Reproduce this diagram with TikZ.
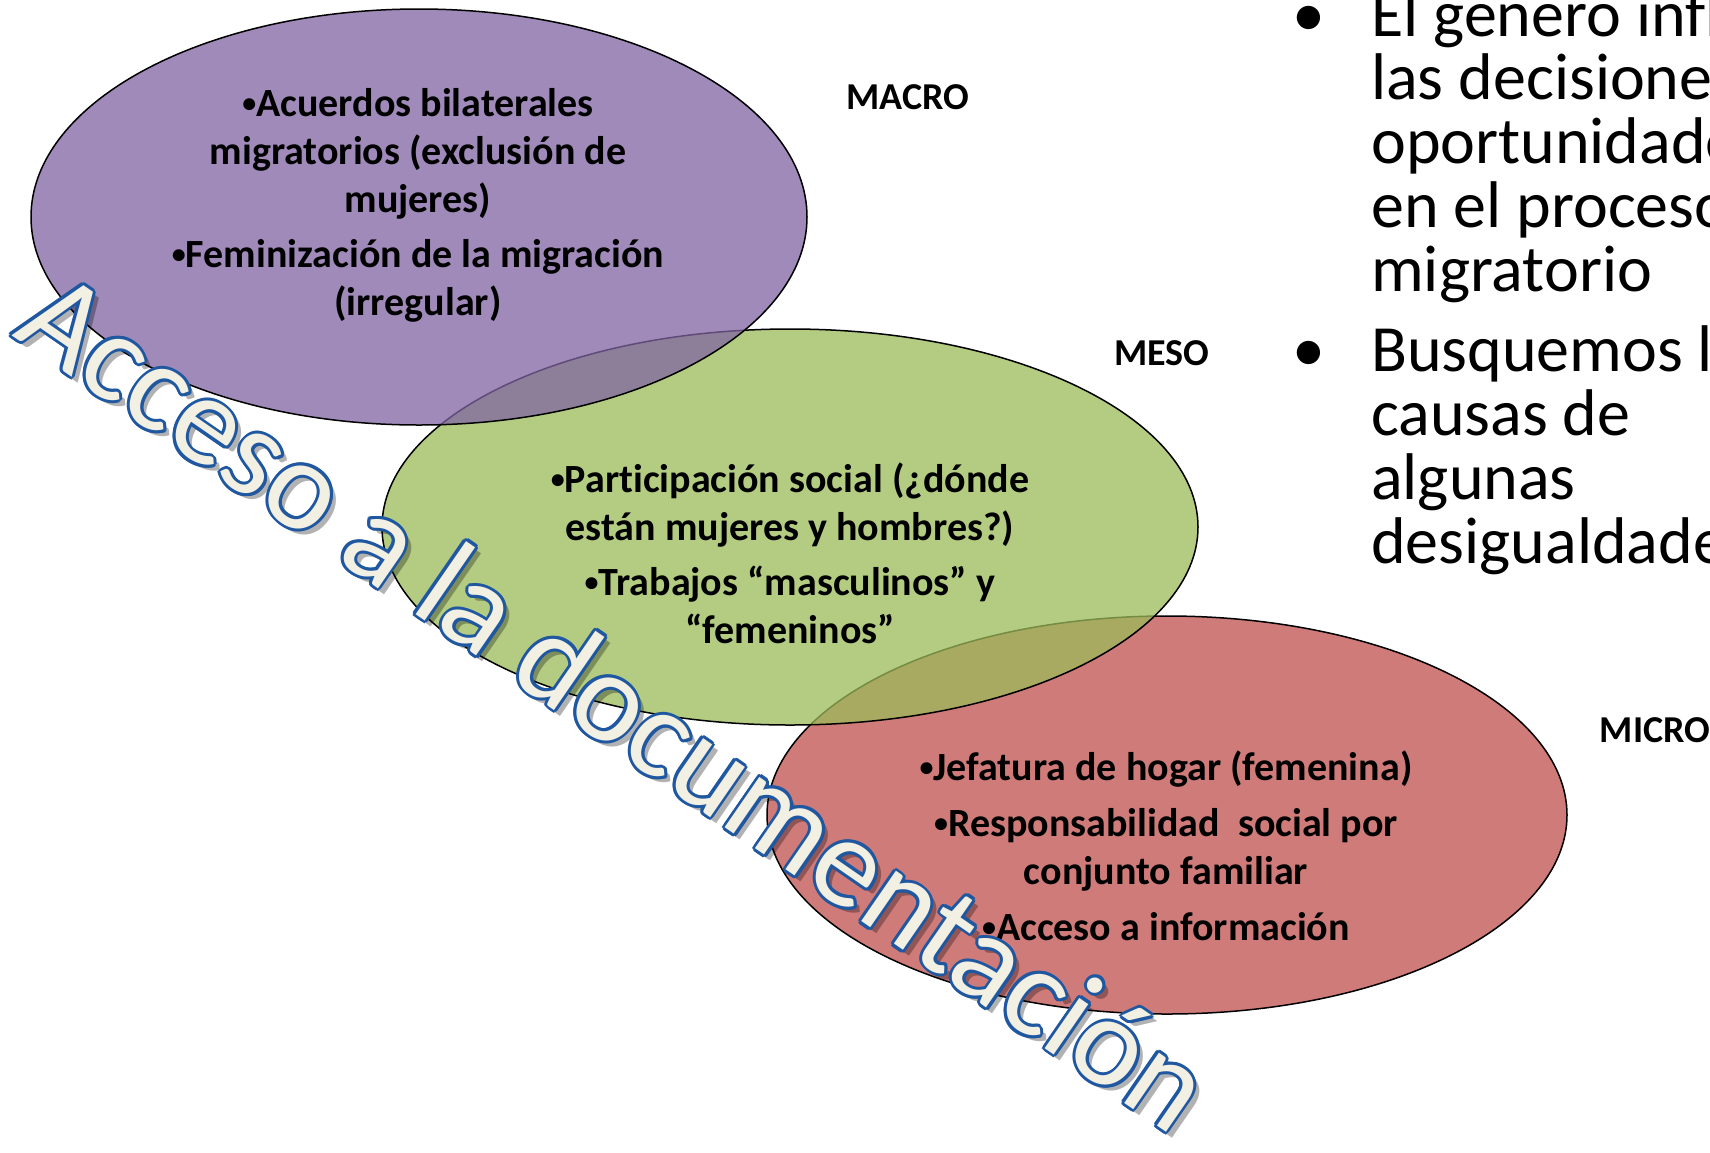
\documentclass[tikz,border=0pt]{standalone}
\usepackage{fontspec}
\setmainfont{Carlito}[Ligatures=NoCommon]
\usepackage{tikz}
\usetikzlibrary{shapes}

\definecolor{macrofill}{HTML}{8064A2}
\definecolor{mesofill}{HTML}{9BBB59}
\definecolor{microfill}{HTML}{C0504D}
\definecolor{wordfill}{HTML}{F2EFE3}
\definecolor{wordline}{HTML}{1F58A0}

\newcommand{\dotmark}{\raisebox{0.1em}{\scalebox{0.7}{\textbullet}}}

\tikzset{
    level/.style={draw=black, line width=1.5pt, fill opacity=0.75},
    box/.style={align=center, inner sep=0pt, font=\bfseries\fontsize{40}{48}\selectfont},
    tag/.style={inner sep=0pt, font=\bfseries\fontsize{38}{44}\selectfont},
    list/.style={align=left, inner sep=0pt, anchor=base west, font=\fontsize{66}{63.75}\selectfont},
    word/.style={anchor=base west, inner sep=0pt, rotate=-34.6, font=\fontsize{128}{128}\selectfont}
}

\begin{document}
\begin{tikzpicture}[x=1pt, y=-1pt]
        \fill[white] (0, 0) rectangle (1710, 1152);
        \path[use as bounding box, clip] (0, 0) rectangle (1710, 1152);

        \draw[level, fill=microfill] (1167, 815) ellipse [x radius=400, y radius=199];
        \draw[level, fill=mesofill] (790, 527) ellipse [x radius=408, y radius=198];
        \draw[level, fill=macrofill] (419, 217) ellipse [x radius=388, y radius=208];

        \draw (418, 205) node[box] (macrotext) {\dotmark Acuerdos bilaterales\\migratorios (exclusión de\\mujeres)\\[7pt]\dotmark Feminización de la migración\\(irregular)};
        \draw (790, 553) node[box] (mesotext) {\dotmark Participación social (¿dónde\\están mujeres y hombres?)\\[7pt]\dotmark Trabajos “masculinos” y\\“femeninos”};
        \draw (1166, 846) node[box] (microtext) {\dotmark Jefatura de hogar (femenina)\\[8pt]\dotmark Responsabilidad\ \ social por\\conjunto familiar\\[8pt]\dotmark Acceso a información};

        \draw (908, 97) node[tag] (macro) {MACRO};
        \draw (1162, 353) node[tag] (meso) {MESO};
        \draw (1655, 730) node[tag] (micro) {MICRO};

        \draw (1309, 36) node[list, anchor=base] (dot1) {\textbullet};
        \draw (1371, 291) node[list] (genero) {El género influye en\\las decisiones y\\oportunidades\\en el proceso\\migratorio};
        \draw (1309, 371) node[list, anchor=base] (dot2) {\textbullet};
        \draw (1371, 563) node[list] (causas) {Busquemos las\\causas de\\algunas\\desigualdades};

        % sombra y contorno del rotulo
        \draw (17, 341) node[word, text=black, opacity=0.3] (shadow) {Acceso a la documentación};
        \foreach \a in {0, 30, ..., 330}
            \draw (11, 335) ++(\a:3) node[word, text=wordline] (edge\a) {Acceso a la documentación};
        \draw (11, 335) node[word, text=wordfill] (doc) {Acceso a la documentación};
\end{tikzpicture}
\end{document}
